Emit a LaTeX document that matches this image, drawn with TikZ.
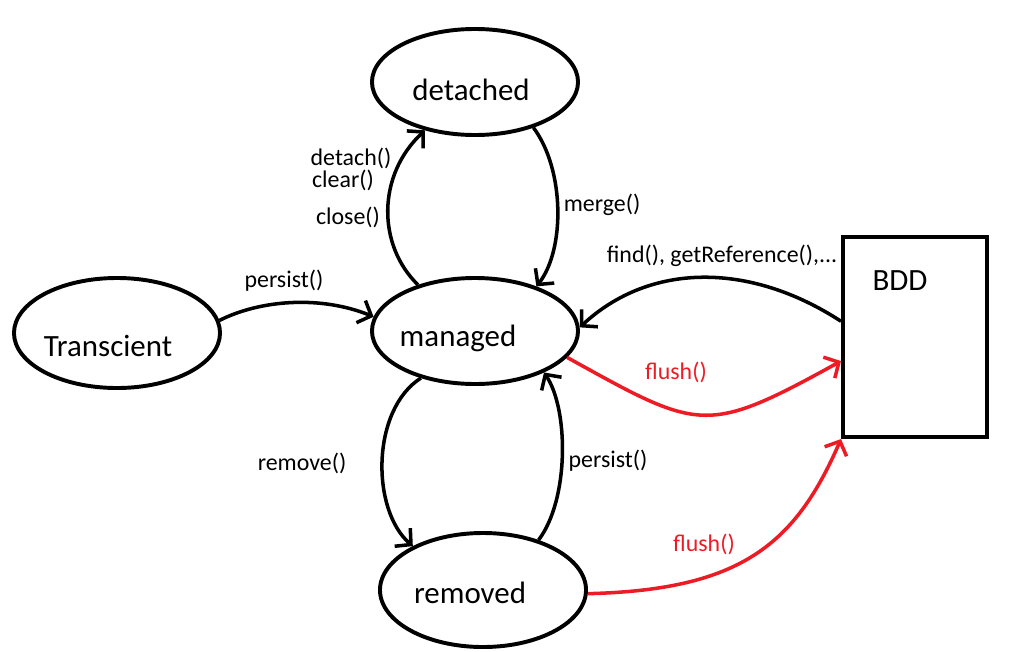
\documentclass[tikz,border=0pt]{standalone}
\usepackage{fontspec}
\setmainfont{Carlito}
\usetikzlibrary{arrows.meta,shapes.geometric}
\definecolor{pred}{RGB}{237,28,36}
\begin{document}
\begin{tikzpicture}[x=0.025cm,y=-0.025cm,
  stnode/.style={ellipse,draw,line width=2.8pt,inner sep=0pt},
  stxt/.style={font=\fontsize{22}{26}\selectfont,inner sep=0pt},
  lbl/.style={font=\fontsize{17}{20}\selectfont,inner sep=0pt},
  arr/.style={line width=2.5pt,-{Straight Barb[length=8pt,width=17pt]}},
  rarr/.style={arr,draw=pred},
]
\useasboundingbox (0,0) rectangle (1024,651);
% states
\node[stnode,minimum width=5.15cm,minimum height=2.75cm] (tr) at (117,333) {};
\node[stnode,minimum width=5.15cm,minimum height=2.65cm] (de) at (475,82) {};
\node[stnode,minimum width=5.15cm,minimum height=2.65cm] (ma) at (475,331) {};
\node[stnode,minimum width=5.15cm,minimum height=2.85cm] (re) at (483,590) {};
\node[draw,line width=2.8pt,minimum width=3.6cm,minimum height=5cm,inner sep=0pt] (bdd) at (915,337) {};
% state texts
\node[stxt] (ttr) at (108,346) {Transcient};
\node[stxt] (tde) at (471,90) {detached};
\node[stxt] (tma) at (458,338) {managed};
\node[stxt] (tre) at (470,593) {removed};
\node[stxt] (tbdd) at (900,281) {BDD};
% connectors
\draw[arr] (tr.7) .. controls (260,300) and (320,295) .. (ma.172);
\draw[arr] (ma.141) .. controls (377,245) and (377,175) .. (de.224);
\draw[arr] (de.-38) .. controls (565,170) and (565,250) .. (ma.36);
\draw[arr] (bdd.168) .. controls (750,262) and (650,262) .. (ma.2);
\draw[rarr] (ma.-16) .. controls (700,431) and (705,436) .. (bdd.198);
\draw[arr] (ma.221) .. controls (371,410) and (371,510) .. (re.148);
\draw[arr] (re.42) .. controls (569,500) and (569,410) .. (ma.-31.5);
\draw[rarr] (re.-2) .. controls (740,590) and (795,545) .. (bdd.south west);
% labels
\node[lbl] (lp1) at (284,281) {persist()};
\node[lbl] (ld) at (351,158) {detach()};
\node[lbl] (lc) at (343,180) {clear()};
\node[lbl] (lcl) at (348,217) {close()};
\node[lbl] (lm) at (602,205) {merge()};
\node[lbl] (lf) at (722,256) {find(), getReference(),...};
\node[lbl,text=pred] (lfl1) at (676,372) {flush()};
\node[lbl] (lr) at (302,463) {remove()};
\node[lbl] (lp2) at (608,461) {persist()};
\node[lbl,text=pred] (lfl2) at (704,544) {flush()};
\end{tikzpicture}
\end{document}
